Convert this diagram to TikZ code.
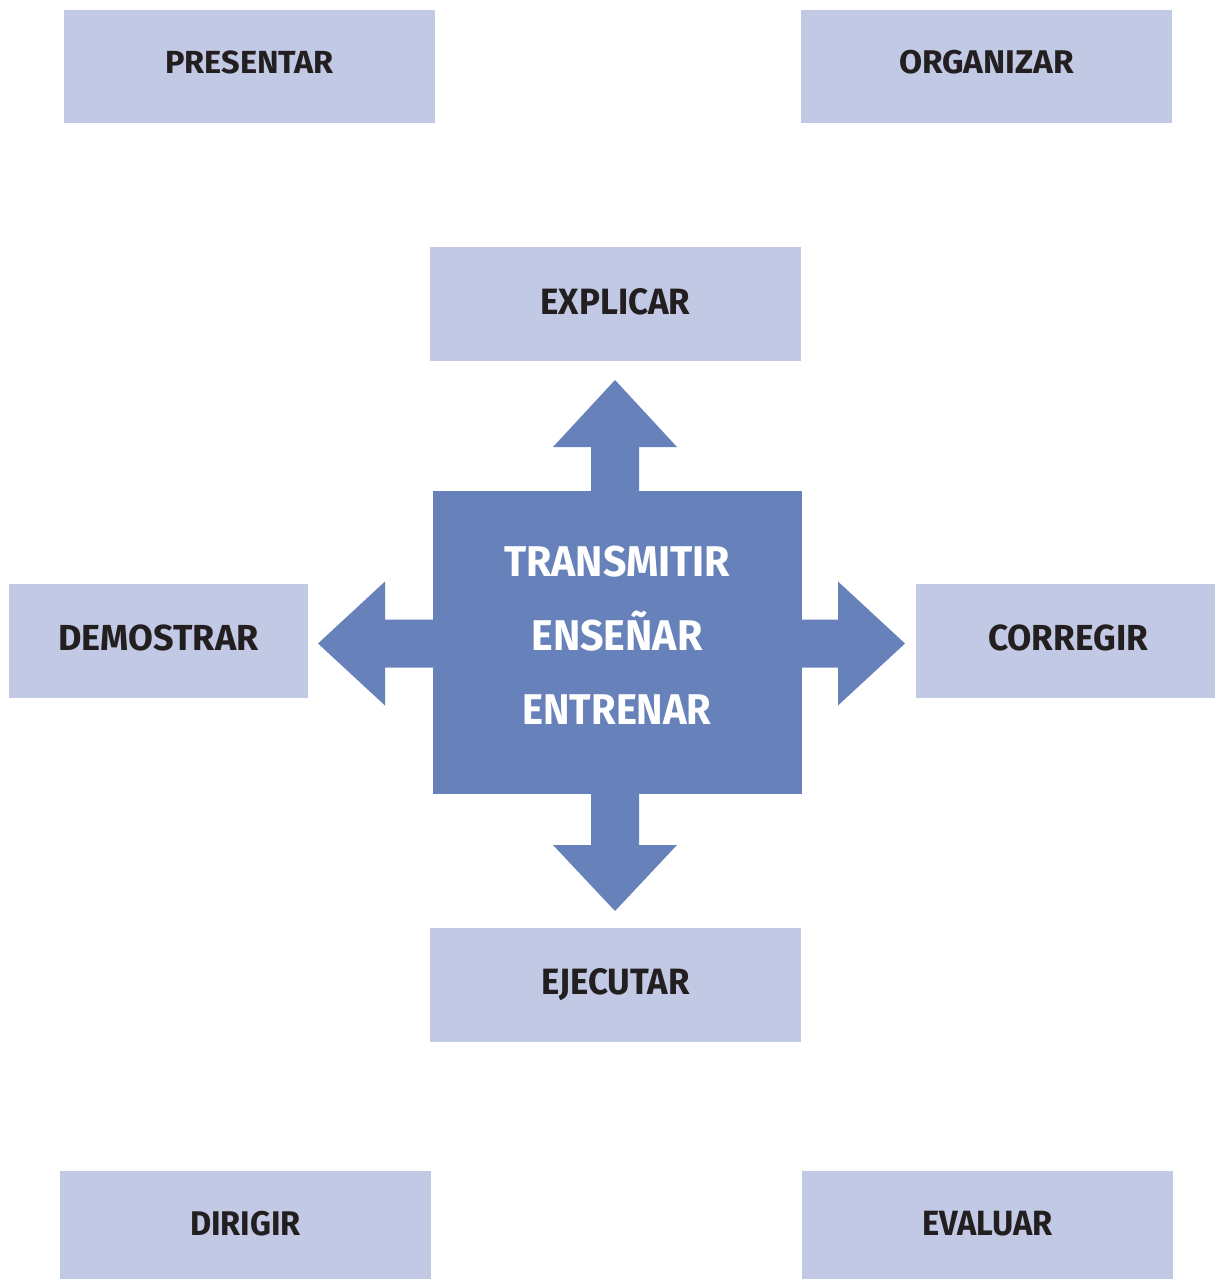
\documentclass[tikz,border=0pt]{standalone}
\usepackage{fontspec}
\usepackage{graphicx}
\setmainfont{Fira Sans}[BoldFont={* Bold}]
\usetikzlibrary{calc}
\definecolor{boxlight}{RGB}{193,201,228}
\definecolor{boxdark}{RGB}{103,130,186}
\definecolor{txtdark}{RGB}{35,31,32}
\newcommand{\fitword}[3]{\resizebox{#1pt}{#2pt}{#3}}
\newcommand{\fitwide}[2]{\resizebox{#1pt}{\height}{#2}}
\begin{document}
\begin{tikzpicture}[x=1pt,y=-1pt,
  lbox/.style={fill=boxlight,draw=none,inner sep=0pt,minimum width=371pt,minimum height=114pt,
    font=\fontsize{33}{36}\selectfont\bfseries,text=txtdark},
  sbox/.style={lbox,minimum width=299pt},
  cbox/.style={fill=boxdark,draw=none,inner sep=0pt,minimum width=369pt,minimum height=303pt},
  ctext/.style={font=\fontsize{43}{74}\selectfont\bfseries,text=white,align=center,inner sep=0pt},
  fat/.style={fill=boxdark,draw=none}]
\useasboundingbox (0,0) rectangle (1215,1279);
\node[lbox,minimum height=113pt,text depth=9pt] (presentar) at (249.5,66.5) {\fitword{168.6}{22.7}{PRESENTAR}};
\node[lbox,minimum height=113pt,text depth=9.6pt] (organizar) at (986.5,66.5) {\fitword{175}{23.3}{ORGANIZAR}};
\node[lbox,text depth=5.4pt] (explicar) at (615.5,304) {\fitword{150}{26}{EXPLICAR}};
\node[sbox,text depth=6.4pt] (demostrar) at (158.5,641) {\fitword{200}{25.7}{DEMOSTRAR}};
\node[sbox,text depth=6.4pt] (corregir) at (1065.5,641) {\hspace*{5pt}\fitword{160}{25.7}{CORREGIR}};
\node[lbox,text depth=7.4pt] (ejecutar) at (615.5,985) {\fitword{148}{26}{EJECUTAR}};
\node[lbox,minimum height=108pt,text depth=2.4pt] (dirigir) at (245.5,1225) {\fitword{110.7}{24.3}{DIRIGIR}};
\node[lbox,minimum height=108pt,text depth=2.4pt] (evaluar) at (987.5,1225) {\fitword{130.7}{24.3}{EVALUAR}};
% fat arrows
\coordinate (upbase) at (615,491);
\coordinate (dnbase) at (615,794);
\coordinate (lfbase) at (433,643.5);
\coordinate (rtbase) at (802,643.5);
\fill[fat] ($(upbase)+(-24,1)$) -- ($(upbase)+(-24,-44)$) -- ($(upbase)+(-62,-44)$) -- ($(upbase)+(0,-111)$)
  -- ($(upbase)+(62,-44)$) -- ($(upbase)+(24,-44)$) -- ($(upbase)+(24,1)$) -- cycle;
\fill[fat] ($(dnbase)+(-24,-1)$) -- ($(dnbase)+(-24,51)$) -- ($(dnbase)+(-62,51)$) -- ($(dnbase)+(0,117)$)
  -- ($(dnbase)+(62,51)$) -- ($(dnbase)+(24,51)$) -- ($(dnbase)+(24,-1)$) -- cycle;
\fill[fat] ($(lfbase)+(1,-24)$) -- ($(lfbase)+(-48,-24)$) -- ($(lfbase)+(-48,-62)$) -- ($(lfbase)+(-115,0)$)
  -- ($(lfbase)+(-48,62)$) -- ($(lfbase)+(-48,24)$) -- ($(lfbase)+(1,24)$) -- cycle;
\fill[fat] ($(rtbase)+(-1,-24)$) -- ($(rtbase)+(36,-24)$) -- ($(rtbase)+(36,-62)$) -- ($(rtbase)+(103,0)$)
  -- ($(rtbase)+(36,62)$) -- ($(rtbase)+(36,24)$) -- ($(rtbase)+(-1,24)$) -- cycle;
\node[cbox] (centre) at (617.5,642.5) {};
\node[ctext] (centretext) at (617,635.6) {\fitwide{226}{TRANSMITIR}\\\fitwide{171}{ENSEÑAR}\\\fitwide{189}{ENTRENAR}};
\end{tikzpicture}
\end{document}
